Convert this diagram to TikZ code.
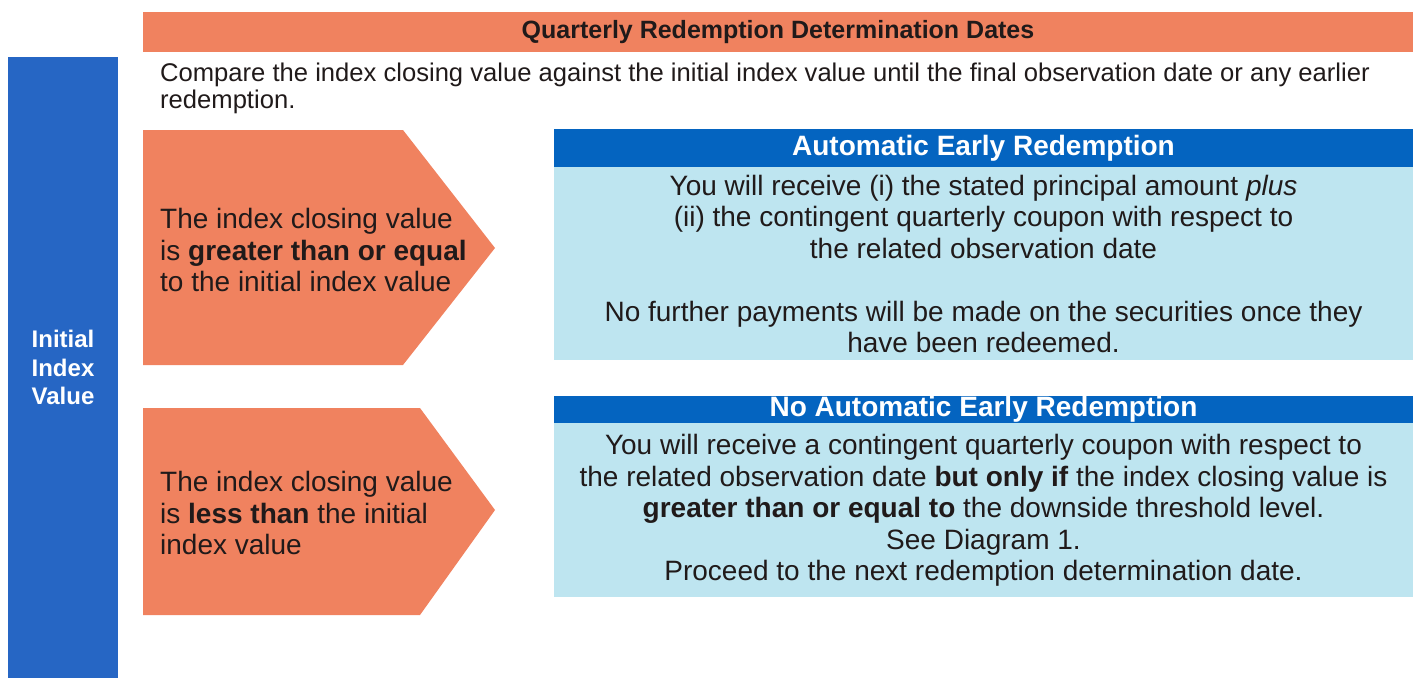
\documentclass[tikz,border=0pt]{standalone}
\usepackage{fontspec}
\setmainfont{Liberation Sans}
\usetikzlibrary{positioning}
\definecolor{salmon}{RGB}{240,130,95}
\definecolor{barblue}{RGB}{38,102,196}
\definecolor{headblue}{RGB}{4,100,192}
\definecolor{paleblue}{RGB}{190,229,240}
\definecolor{inkdark}{RGB}{32,26,26}
\tikzset{bigfont/.style = {font=\fontsize{28bp}{31.5bp}\selectfont},
         headbar/.style = {fill=headblue, text=white, inner sep=0pt,
                           minimum width=859bp,
                           font=\fontsize{28bp}{31.5bp}\selectfont\bfseries},
         bodybox/.style = {fill=paleblue, text=inkdark, inner sep=0pt,
                           minimum width=859bp, align=center, bigfont},
         chevtext/.style = {anchor=west, align=left, inner sep=0pt,
                            text=inkdark, bigfont}}

\begin{document}
\begin{tikzpicture}[x=1bp, y=-1bp]
    \useasboundingbox (0, 0) rectangle (1418, 678);
    \node [fill=salmon, text=inkdark, inner sep=0pt, minimum width=1270bp,
           minimum height=40bp, font=\fontsize{25bp}{27bp}\selectfont\bfseries]
          (datesbar) at (778, 32) {Quarterly Redemption Determination Dates};
    \node [fill=barblue, text=white, inner sep=0pt, minimum width=110bp,
           minimum height=621bp, align=center,
           font=\fontsize{24bp}{28.5bp}\selectfont\bfseries]
          (initbar) at (63, 367.5) {Initial\\Index\\Value};
    \node [anchor=west, align=left, inner sep=0pt, text=inkdark,
           font=\fontsize{25.6bp}{27bp}\selectfont]
          (compare) at (160, 88) {Compare the index closing value against the initial index value until the final observation date or any earlier\\redemption.};
    \fill [salmon] (143, 130) -- (403, 130) -- (495, 248) -- (403, 365) -- (143, 365) -- cycle;
    \fill [salmon] (143, 408) -- (420, 408) -- (495, 510) -- (420, 615) -- (143, 615) -- cycle;
    \node [chevtext] (upcase) at (160, 250)
          {The index closing value\\is \textbf{greater than or equal}\\to the initial index value};
    \node [chevtext] (downcase) at (160, 513)
          {The index closing value\\is \textbf{less than} the initial\\index value};
    \node [headbar, minimum height=38bp] (autohead) at (983.5, 148) {Automatic Early Redemption};
    \node [bodybox, minimum height=193bp, below=0pt of autohead] (autobody)
          {You will receive (i) the stated principal amount \textit{plus}\\(ii) the contingent quarterly coupon with respect to\\the related observation date\\[31.5bp]No further payments will be made on the securities once they\\have been redeemed.};
    \node [headbar, minimum height=27bp] (nohead) at (983.5, 409.5) {No Automatic Early Redemption};
    \node [bodybox, minimum height=174bp, below=0pt of nohead] (nobody)
          {You will receive a contingent quarterly coupon with respect to\\the related observation date \textbf{but only if} the index closing value is\\\textbf{greater than or equal to} the downside threshold level.\\See Diagram 1.\\Proceed to the next redemption determination date.};
\end{tikzpicture}
\end{document}
